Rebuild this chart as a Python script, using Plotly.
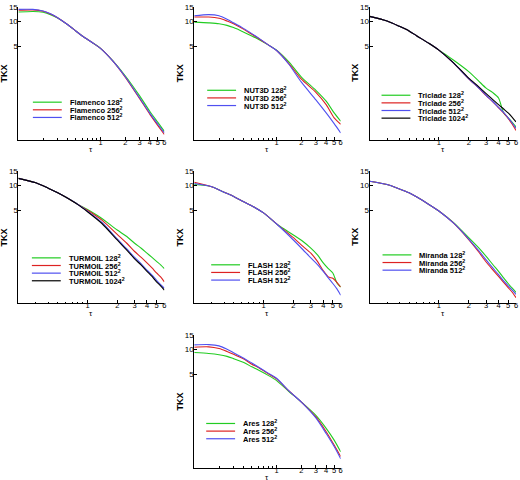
import numpy as np
import plotly.graph_objects as go

# ------------------------------- DATA -------------------------------
# tau sample points (two groups of panels use a different x range)
tau_lo = [0.1, 0.15, 0.2, 0.25, 0.3, 0.4, 0.5, 0.6, 0.8, 1, 1.4, 2, 3, 4, 5, 6]
tau_hi = [0.2, 0.3, 0.4, 0.5, 0.6, 0.8, 1, 1.4, 2, 2.5, 3, 3.5, 4, 4.5, 5, 5.5, 6]

flamenco_128 = [13.0, 13.2, 12.9, 12.0, 11.0, 9.1, 7.65, 6.65, 5.5, 4.7, 3.35, 2.18, 1.24, 0.80, 0.59, 0.46]
flamenco_256 = [13.7, 13.8, 13.3, 12.2, 11.1, 9.1, 7.65, 6.65, 5.5, 4.7, 3.33, 2.10, 1.15, 0.74, 0.54, 0.42]
flamenco_512 = [14.0, 14.0, 13.4, 12.3, 11.1, 9.1, 7.65, 6.65, 5.5, 4.7, 3.33, 2.12, 1.17, 0.76, 0.56, 0.44]

nut3d_128 = [9.8, 9.6, 9.37, 8.95, 8.4, 7.4, 6.66, 6.07, 5.14, 4.47, 3.24, 2.10, 1.45, 1.07, 0.77, 0.61]
nut3d_256 = [11.3, 11.3, 10.9, 10.1, 9.37, 8.0, 6.97, 6.24, 5.14, 4.42, 3.09, 1.98, 1.37, 0.97, 0.67, 0.56]
nut3d_512 = [11.7, 12.1, 11.7, 10.6, 9.6, 8.16, 7.1, 6.3, 5.14, 4.42, 3.03, 1.82, 1.11, 0.77, 0.57, 0.44]

triclade_128 = [11.5, 10.1, 8.7, 7.65, 6.65, 5.38, 4.47, 3.39, 2.45, 1.90, 1.54, 1.36, 1.17, 0.77, 0.67, 0.59, 0.52]
triclade_256 = [11.5, 10.1, 8.7, 7.65, 6.65, 5.38, 4.47, 3.12, 2.00, 1.56, 1.25, 1.05, 0.89, 0.77, 0.66, 0.56, 0.47]
triclade_512 = [11.5, 10.1, 8.7, 7.65, 6.65, 5.38, 4.47, 3.12, 2.00, 1.57, 1.26, 1.06, 0.90, 0.78, 0.67, 0.58, 0.50]
triclade_1024 = [11.5, 10.1, 8.7, 7.65, 6.65, 5.38, 4.47, 3.15, 2.04, 1.62, 1.32, 1.12, 0.97, 0.86, 0.77, 0.68, 0.60]

turmoil_128 = [12.25, 10.8, 9.29, 8.16, 7.24, 5.9, 5.1, 3.97, 2.87, 2.39, 1.98, 1.72, 1.50, 1.33, 1.19, 1.08, 0.97]
turmoil_256 = [12.25, 10.8, 9.29, 8.16, 7.24, 5.9, 5.0, 3.79, 2.54, 1.98, 1.57, 1.33, 1.14, 0.99, 0.86, 0.77, 0.67]
turmoil_512 = [12.25, 10.8, 9.29, 8.16, 7.24, 5.88, 4.88, 3.55, 2.24, 1.69, 1.33, 1.11, 0.93, 0.81, 0.70, 0.62, 0.56]
turmoil_1024 = [12.25, 10.8, 9.29, 8.16, 7.24, 5.86, 4.8, 3.45, 2.17, 1.63, 1.28, 1.07, 0.90, 0.78, 0.67, 0.60, 0.53]

flash_128 = [10.3, 9.7, 8.3, 7.37, 6.54, 5.48, 4.64, 3.3, 2.50, 2.08, 1.73, 1.43, 1.14, 0.97, 0.86, 0.65, 0.58]
flash_256 = [11.0, 9.7, 8.3, 7.37, 6.54, 5.48, 4.64, 3.3, 2.32, 1.81, 1.50, 1.19, 0.92, 0.77, 0.74, 0.66, 0.58]
flash_512 = [10.6, 9.7, 8.3, 7.37, 6.54, 5.48, 4.64, 3.28, 2.17, 1.65, 1.31, 1.09, 0.90, 0.75, 0.64, 0.55, 0.46]

miranda_128 = [11.3, 10.3, 9.1, 8.16, 7.24, 5.85, 4.9, 3.55, 2.32, 1.76, 1.37, 1.09, 0.90, 0.75, 0.64, 0.56, 0.50]
miranda_256 = [11.3, 10.3, 9.1, 8.16, 7.24, 5.85, 4.9, 3.50, 2.19, 1.57, 1.17, 0.94, 0.78, 0.66, 0.57, 0.50, 0.43]
miranda_512 = [11.3, 10.3, 9.1, 8.16, 7.24, 5.85, 4.9, 3.50, 2.23, 1.63, 1.24, 0.99, 0.82, 0.69, 0.60, 0.53, 0.47]

ares_128 = [9.12, 8.9, 8.6, 8.2, 7.7, 6.9, 6.13, 5.6, 4.79, 4.17, 3.1, 2.29, 1.58, 1.10, 0.79, 0.57]
ares_256 = [10.6, 10.7, 10.2, 9.4, 8.7, 7.6, 6.6, 6.0, 5.0, 4.37, 3.15, 2.29, 1.51, 1.00, 0.69, 0.50]
ares_512 = [11.3, 11.4, 11.0, 10.0, 9.1, 7.8, 6.8, 6.1, 5.1, 4.45, 3.15, 2.29, 1.47, 0.95, 0.66, 0.47]

x_ticks = [1, 2, 3, 4, 5, 6]
y_ticks = [5, 10, 15]

# ------------------------------- STYLE -------------------------------
W, H = 520, 480
colors = {"128": "#22cc22", "256": "#dd2222", "512": "#5050f0", "1024": "#000000"}
col_px = [(18.5, 165), (195, 342), (371, 518)]
row_px = [(2.7, 136.7), (168.3, 302), (333.3, 467.7)]

# name, tau, series, row, col, legend origin (px)
panels = [
    ("Flamenco", tau_lo, {"128": flamenco_128, "256": flamenco_256, "512": flamenco_512}, 0, 0, (33, 99)),
    ("NUT3D", tau_lo, {"128": nut3d_128, "256": nut3d_256, "512": nut3d_512}, 0, 1, (208, 87)),
    ("Triclade", tau_hi, {"128": triclade_128, "256": triclade_256, "512": triclade_512,
                          "1024": triclade_1024}, 0, 2, (383, 92)),
    ("TURMOIL", tau_hi, {"128": turmoil_128, "256": turmoil_256, "512": turmoil_512,
                         "1024": turmoil_1024}, 1, 0, (32, 256)),
    ("FLASH", tau_hi, {"128": flash_128, "256": flash_256, "512": flash_512}, 1, 1, (212, 263)),
    ("Miranda", tau_hi, {"128": miranda_128, "256": miranda_256, "512": miranda_512}, 1, 2, (384, 253)),
    ("Ares", tau_lo, {"128": ares_128, "256": ares_256, "512": ares_512}, 2, 1, (207, 423)),
]

font_family = "Liberation Sans, Arial, sans-serif"

fig = go.Figure()
shapes = []
annotations = []

for i, (name, tau, series, r, c, (lx, ly)) in enumerate(panels):
    n = i + 1
    xa = "x" if n == 1 else f"x{n}"
    ya = "y" if n == 1 else f"y{n}"

    for res, vals in series.items():
        fig.add_trace(go.Scatter(
            x=tau, y=vals, mode="lines", xaxis=xa, yaxis=ya,
            line=dict(color=colors[res], width=1.1, shape="spline", smoothing=0.7),
            name=f"{name} {res}", hoverinfo="skip",
        ))

    x0, x1 = col_px[c]
    y0, y1 = row_px[r]
    minor_vals = [v / 10 for v in range(2 if tau[0] < 0.2 else 3, 10)]
    fig.layout[f"xaxis{n}" if n > 1 else "xaxis"] = dict(
        type="log", domain=[x0 / W, x1 / W], anchor=ya,
        range=[np.log10(tau[0]), np.log10(6)],
        tickmode="array", tickvals=x_ticks, ticktext=[str(t) for t in x_ticks],
        ticks="inside", ticklen=3, tickcolor="black", ticklabelstandoff=-5,
        minor=dict(tickmode="array", tickvals=minor_vals, ticks="inside", ticklen=1.5,
                   tickcolor="black"),
        showline=True, linecolor="black", linewidth=1, showgrid=False, zeroline=False,
        tickfont=dict(family=font_family, size=7.5, color="black"),
    )
    fig.layout[f"yaxis{n}" if n > 1 else "yaxis"] = dict(
        type="log", domain=[1 - y1 / H, 1 - y0 / H], anchor=xa,
        range=[np.log10(0.365), np.log10(15.1)],
        tickmode="array", tickvals=y_ticks, ticktext=[str(t) for t in y_ticks],
        ticks="inside", ticklen=3, tickcolor="black", ticklabelstandoff=-2,
        showline=True, linecolor="black", linewidth=1, showgrid=False, zeroline=False,
        tickfont=dict(family=font_family, size=8, color="black"),
    )

    # axis titles
    annotations.append(dict(
        text="τ", xref=f"{xa} domain", yref=f"{ya} domain", x=0.5, y=0,
        yshift=-10, showarrow=False, xanchor="center", yanchor="middle",
        font=dict(family=font_family, size=8, color="black"),
    ))
    annotations.append(dict(
        text="<b>TKX</b>", xref=f"{xa} domain", yref=f"{ya} domain", x=0, y=0.5,
        xshift=-14, showarrow=False, textangle=-90, xanchor="center", yanchor="middle",
        font=dict(family=font_family, size=9, color="black"),
    ))

    # legend drawn by hand for the tight row spacing
    for k, res in enumerate(series):
        yy = 1 - (ly + k * 7.7) / H
        shapes.append(dict(type="line", xref="paper", yref="paper",
                           x0=lx / W, x1=(lx + 29) / W, y0=yy, y1=yy,
                           line=dict(color=colors[res], width=1.2)))
        annotations.append(dict(
            text=f"<b>{name} {res}<sup>2</sup></b>", xref="paper", yref="paper",
            x=(lx + 35) / W, y=yy, showarrow=False, xanchor="left", yanchor="middle",
            font=dict(family=font_family, size=7.5, color="black"),
        ))

fig.update_layout(
    width=W, height=H, margin=dict(l=0, r=0, t=0, b=0),
    paper_bgcolor="white", plot_bgcolor="white", showlegend=False,
    shapes=shapes, annotations=annotations,
)

fig.write_html("out.html", config={"displayModeBar": False})

# drop the default page margin so the figure sits at the window's corner
with open("out.html", encoding="utf-8") as f:
    page = f.read()
page = page.replace("<body>", '<body style="margin:0">', 1)
with open("out.html", "w", encoding="utf-8") as f:
    f.write(page)
